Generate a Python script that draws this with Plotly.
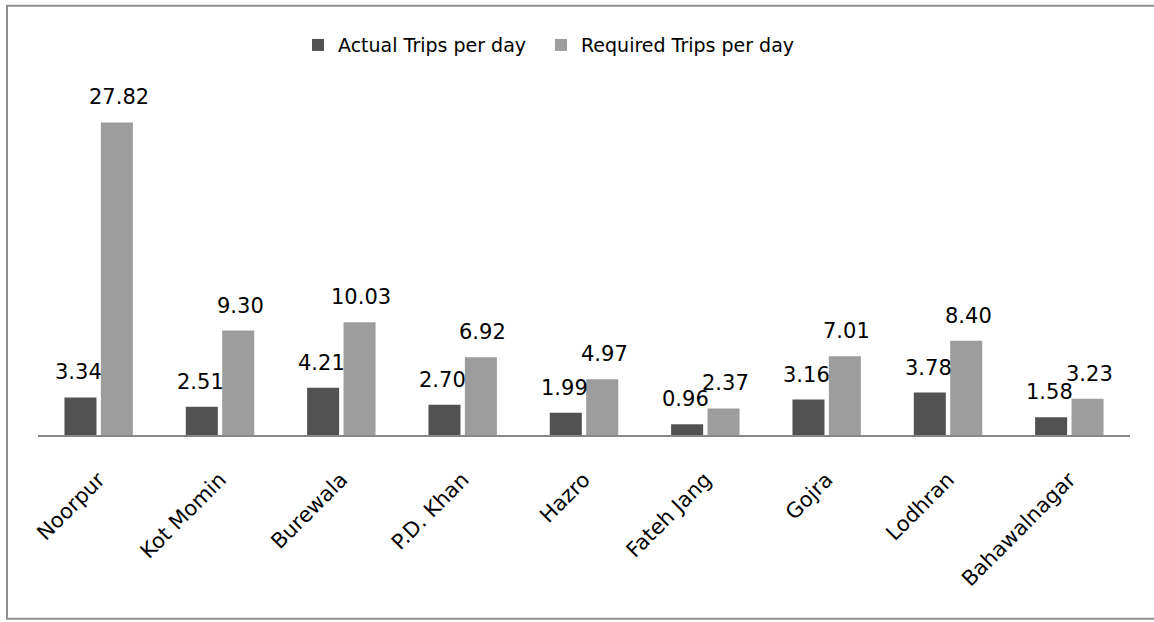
import plotly.graph_objects as go

# Towns and trips per day
towns = ["Noorpur", "Kot Momin", "Burewala", "P.D. Khan", "Hazro",
         "Fateh Jang", "Gojra", "Lodhran", "Bahawalnagar"]
actual_trips = [3.34, 2.51, 4.21, 2.70, 1.99, 0.96, 3.16, 3.78, 1.58]
required_trips = [27.82, 9.30, 10.03, 6.92, 4.97, 2.37, 7.01, 8.40, 3.23]

FONT = "DejaVu Sans"
ACTUAL_COLOR = "#525252"
REQUIRED_COLOR = "#9d9d9d"

fig = go.Figure()
fig.add_trace(go.Bar(name="Actual Trips per day", x=towns, y=actual_trips,
                     marker=dict(color=ACTUAL_COLOR, line=dict(width=0)),
                     legend="legend"))
fig.add_trace(go.Bar(name="Required Trips per day", x=towns, y=required_trips,
                     marker=dict(color=REQUIRED_COLOR, line=dict(width=0)),
                     legend="legend2"))

# Value labels above each bar
annotations = []
for series, shift in ((actual_trips, -20), (required_trips, 20)):
    for town, v in zip(towns, series):
        annotations.append(dict(
            x=town, y=v, xref="x", yref="y", text=f"{v:.2f}",
            showarrow=False, xshift=shift, yshift=11, yanchor="bottom",
            font=dict(family=FONT, size=21, color="#000000")))

L, R, T, B = 38, 24, 98, 186.5
W, H = 1154, 622
pw, ph = W - L - R, H - T - B

def px_x(p):
    return (p - L) / pw

def px_y(p):
    return (H - B - p) / ph

legend_style = dict(orientation="h", xanchor="left", y=px_y(45), yanchor="middle",
                    font=dict(family=FONT, size=19, color="#000000"),
                    bgcolor="rgba(0,0,0,0)")

fig.update_layout(
    width=W, height=H,
    margin=dict(l=L, r=R, t=T, b=B, autoexpand=False),
    paper_bgcolor="white", plot_bgcolor="white",
    barmode="group", bargap=0.4, bargroupgap=0.12,
    font=dict(family=FONT, color="#000000"),
    showlegend=True,
    legend=dict(x=px_x(298), **legend_style),
    legend2=dict(x=px_x(541), **legend_style),
    xaxis=dict(showgrid=False, zeroline=False, showline=True,
               linecolor="#878787", linewidth=2, ticks="",
               tickangle=-45, ticklabelstandoff=22,
               tickfont=dict(family=FONT, size=21, color="#000000")),
    yaxis=dict(range=[0, 30], visible=False, showgrid=False, zeroline=False),
    annotations=annotations,
    shapes=[dict(type="rect", xref="paper", yref="paper",
                 x0=px_x(7), x1=px_x(1220), y0=px_y(619.5), y1=px_y(5.5),
                 line=dict(color="#8f8f8f", width=2), fillcolor="rgba(0,0,0,0)",
                 layer="below")],
)

fig.write_html("out.html")
